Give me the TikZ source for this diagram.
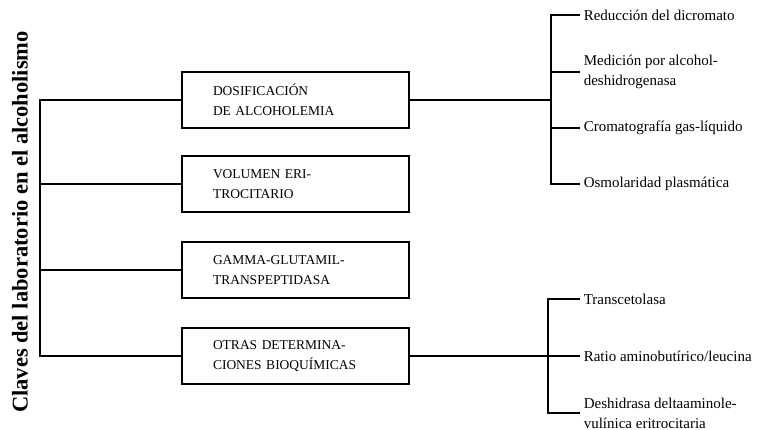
\documentclass[tikz,border=0pt]{standalone}
\usepackage{fontspec}
\setmainfont{Liberation Serif}
\begin{document}
\begin{tikzpicture}[x=1pt,y=-1pt,line width=1.6pt,
  box/.style={draw, rectangle, text width=165pt, inner xsep=31pt, inner ysep=0pt,
    minimum height=56pt, align=left, font=\fontsize{13.5}{20}\selectfont},
  leaf/.style={anchor=west, inner xsep=3pt, inner ysep=0pt, align=left,
    font=\fontsize{15}{20}\selectfont},
  title/.style={font=\bfseries\fontsize{22.5}{22.5}\selectfont, rotate=90, inner sep=0pt}]
\useasboundingbox (0,0) rectangle (758,430);

% vertical title
\node[title] (ttl) at (20,222) {Claves del laboratorio en el alcoholismo};

% the four boxes
\node[box] (b1) at (295.5,100) {DOSIFICACIÓN\\DE ALCOHOLEMIA};
\node[box] (b2) at (295.5,184) {VOLUMEN ERI-\\TROCITARIO};
\node[box] (b3) at (295.5,270) {GAMMA-GLUTAMIL-\\TRANSPEPTIDASA};
\node[box] (b4) at (295.5,356) {OTRAS DETERMINA-\\CIONES BIOQUÍMICAS};

% spine on the left
\coordinate (s1) at (40,100);
\coordinate (s2) at (40,184);
\coordinate (s3) at (40,270);
\coordinate (s4) at (40,356);
\draw (b1.west) -- (s1) -- (s4) -- (b4.west);
\draw (s2) -- (b2.west);
\draw (s3) -- (b3.west);

% methods for blood alcohol
\node[leaf] (r1) at (580,15) {Reducción del dicromato};
\node[leaf] (r2) at (580,72) {Medición por alcohol-\\deshidrogenasa};
\node[leaf] (r3) at (580,128) {Cromatografía gas-líquido};
\node[leaf] (r4) at (580,184) {Osmolaridad plasmática};
\coordinate (j1) at (551,100);
\coordinate (t1) at (551,15);
\coordinate (t2) at (551,72);
\coordinate (t3) at (551,128);
\coordinate (t4) at (551,184);
\draw (b1.east) -- (j1);
\draw (r1.west) -- (t1) -- (t4) -- (r4.west);
\draw (t2) -- (r2.west);
\draw (t3) -- (r3.west);

% other biochemical determinations
\node[leaf] (q1) at (580,299) {Transcetolasa};
\node[leaf] (q2) at (580,356) {Ratio aminobutírico/leucina};
\node[leaf] (q3) at (580,413) {Deshidrasa deltaaminole-\\vulínica eritrocitaria};
\coordinate (j2) at (548,356);
\coordinate (u1) at (548,299);
\coordinate (u3) at (548,413);
\draw (b4.east) -- (j2);
\draw (q1.west) -- (u1) -- (u3) -- (q3.west);
\draw (j2) -- (q2.west);
\end{tikzpicture}
\end{document}
